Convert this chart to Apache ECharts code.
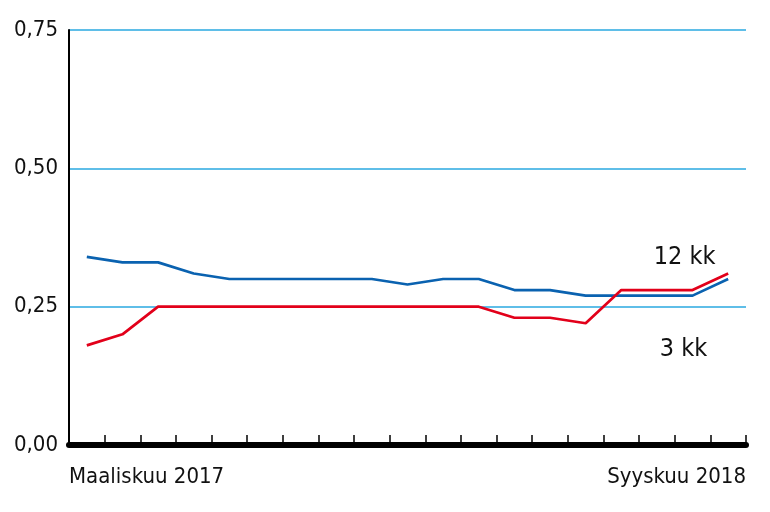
<!DOCTYPE html>
<html>
<head>
<meta charset="utf-8">
<script src="https://cdn.jsdelivr.net/npm/echarts@6/dist/echarts.min.js"></script>
<style>
  html, body { margin: 0; padding: 0; background: #fff; }
  #korkoChart { width: 770px; height: 512px; }
</style>
</head>
<body>
<div id="korkoChart"></div>
<script>
// kuukaudet maaliskuu 2017 - syyskuu 2018
var kuukaudet = ['Maaliskuu 2017', 'Huhtikuu 2017', 'Toukokuu 2017', 'Kesäkuu 2017', 'Heinäkuu 2017',
    'Elokuu 2017', 'Syyskuu 2017', 'Lokakuu 2017', 'Marraskuu 2017', 'Joulukuu 2017', 'Tammikuu 2018',
    'Helmikuu 2018', 'Maaliskuu 2018', 'Huhtikuu 2018', 'Toukokuu 2018', 'Kesäkuu 2018', 'Heinäkuu 2018',
    'Elokuu 2018', 'Syyskuu 2018'];
var kk12 = [0.34, 0.33, 0.33, 0.31, 0.30, 0.30, 0.30, 0.30, 0.30, 0.29, 0.30, 0.30, 0.28, 0.28, 0.27, 0.27, 0.27, 0.27, 0.30];
var kk3 = [0.18, 0.20, 0.25, 0.25, 0.25, 0.25, 0.25, 0.25, 0.25, 0.25, 0.25, 0.25, 0.23, 0.23, 0.22, 0.28, 0.28, 0.28, 0.31];
var yTicks = [0, 0.25, 0.5, 0.75];
var labelIndex = 17;

var fontName = '"Liberation Sans Narrow", "DejaVu Sans Condensed", "Liberation Sans", sans-serif';

// nimi kirjoitetaan yhden pisteen viereen
function withLabel(values, text, position, offset) {
    return values.map(function (v, i) {
        if (i !== labelIndex) return v;
        return {
            value: v,
            label: {
                show: true,
                position: position,
                offset: offset,
                formatter: text,
                color: '#111',
                fontSize: 25,
                fontFamily: fontName
            }
        };
    });
}

var korkoChart = echarts.init(document.getElementById('korkoChart'));
var option = {
    backgroundColor: '#fff',
    animation: false,
    grid: {
        left: 69,
        right: 24,
        top: 30,
        bottom: 67,
        containLabel: false
    },
    xAxis: [{
        type: 'category',
        boundaryGap: true,
        data: kuukaudet,
        axisLine: {
            lineStyle: { color: '#000', width: 6 }
        },
        axisTick: {
            show: true,
            inside: true,
            interval: 0,
            length: 10,
            lineStyle: { color: '#000', width: 1.5 }
        },
        axisLabel: { show: false },
        splitLine: { show: false },
        z: 10
    }, {
        // vain ensimmäinen ja viimeinen kuukausi akselin alle
        type: 'value',
        position: 'bottom',
        min: 0,
        max: 1,
        interval: 1,
        axisLine: { show: false },
        axisTick: { show: false },
        splitLine: { show: false },
        axisLabel: {
            margin: 21,
            color: '#111',
            fontSize: 22,
            fontFamily: fontName,
            alignMinLabel: 'left',
            alignMaxLabel: 'right',
            formatter: function (v) {
                return v === 0 ? kuukaudet[0] : kuukaudet[kuukaudet.length - 1];
            }
        }
    }],
    yAxis: {
        type: 'value',
        min: yTicks[0],
        max: yTicks[yTicks.length - 1],
        interval: yTicks[1] - yTicks[0],
        axisLine: {
            show: true,
            lineStyle: { color: '#000', width: 2 }
        },
        axisTick: { show: false },
        axisLabel: {
            margin: 11,
            color: '#111',
            fontSize: 22,
            fontFamily: fontName,
            formatter: function (v) {
                return v.toFixed(2).replace('.', ',');
            }
        },
        splitLine: {
            lineStyle: { color: '#2aa8e0', width: 1.5 }
        }
    },
    series: [{
        name: '12 kk',
        type: 'line',
        xAxisIndex: 0,
        symbol: 'circle',
        symbolSize: 0,
        showSymbol: true,
        lineStyle: { color: '#0a62b0', width: 2.7 },
        itemStyle: { color: '#0a62b0' },
        data: withLabel(kk12, '12 kk', 'top', [-8, -21]),
        z: 3
    }, {
        name: '3 kk',
        type: 'line',
        xAxisIndex: 0,
        symbol: 'circle',
        symbolSize: 0,
        showSymbol: true,
        lineStyle: { color: '#e2001a', width: 2.7 },
        itemStyle: { color: '#e2001a' },
        data: withLabel(kk3, '3 kk', 'bottom', [-9, 42]),
        z: 4
    }]
};
korkoChart.setOption(option);
</script>
</body>
</html>
